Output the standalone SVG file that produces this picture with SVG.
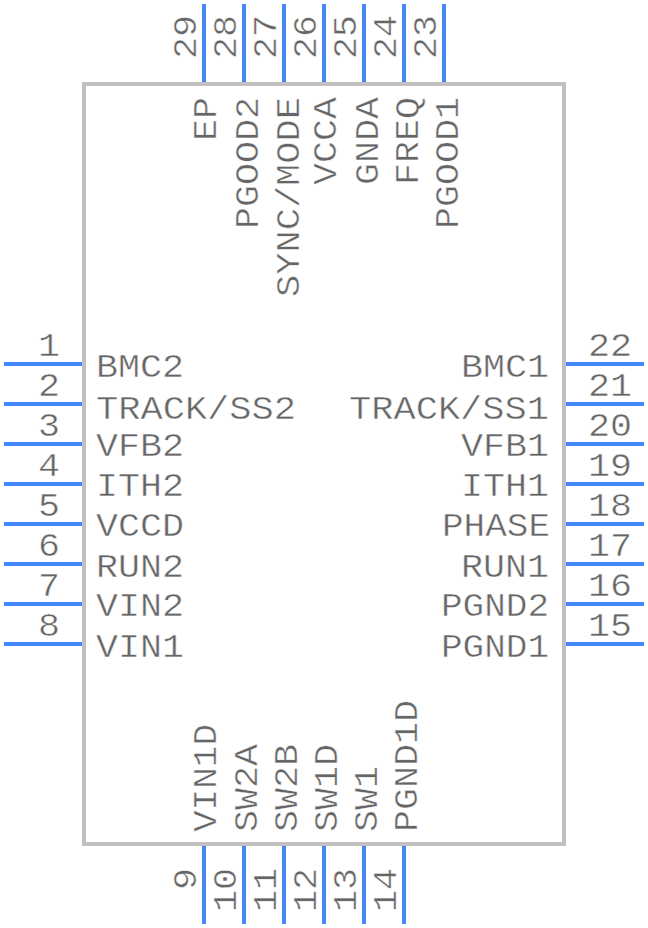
<svg xmlns="http://www.w3.org/2000/svg" width="648" height="928" viewBox="0 0 648 928">
<style>
.p{stroke:#4287f5;stroke-width:4;fill:none}
text{font-family:"Liberation Mono","DejaVu Sans Mono",monospace;font-size:33px;fill:#666;stroke:#fff;stroke-width:0.45}
.e{text-anchor:end}
</style>
<rect width="648" height="928" fill="#fff"/>
<rect id="body" x="84" y="84" width="480" height="760" fill="none" stroke="#bfbfbf" stroke-width="4"/>
<g id="connectors">
<path class="p" d="M4 364H82M4 404H82M4 444H82M4 484H82M4 524H82M4 564H82M4 604H82M4 644H82"/>
<path class="p" d="M566 364H644M566 404H644M566 444H644M566 484H644M566 524H644M566 564H644M566 604H644M566 644H644"/>
<path class="p" d="M204 846V924M244 846V924M284 846V924M324 846V924M364 846V924M404 846V924"/>
<path class="p" d="M204 4V82M244 4V82M284 4V82M324 4V82M364 4V82M404 4V82M444 4V82"/>
</g>
<g id="left">
<text class="e" x="60" y="356" textLength="22" lengthAdjust="spacingAndGlyphs">1</text><text class="e" x="60" y="396" textLength="22" lengthAdjust="spacingAndGlyphs">2</text><text class="e" x="60" y="436" textLength="22" lengthAdjust="spacingAndGlyphs">3</text><text class="e" x="60" y="476" textLength="22" lengthAdjust="spacingAndGlyphs">4</text><text class="e" x="60" y="516" textLength="22" lengthAdjust="spacingAndGlyphs">5</text><text class="e" x="60" y="556" textLength="22" lengthAdjust="spacingAndGlyphs">6</text><text class="e" x="60" y="596" textLength="22" lengthAdjust="spacingAndGlyphs">7</text><text class="e" x="60" y="636" textLength="22" lengthAdjust="spacingAndGlyphs">8</text>
<text x="96" y="377" textLength="88" lengthAdjust="spacingAndGlyphs">BMC2</text><text x="96" y="419" textLength="200" lengthAdjust="spacingAndGlyphs">TRACK/SS2</text><text x="96" y="456" textLength="88" lengthAdjust="spacingAndGlyphs">VFB2</text><text x="96" y="496" textLength="88" lengthAdjust="spacingAndGlyphs">ITH2</text><text x="96" y="536" textLength="88" lengthAdjust="spacingAndGlyphs">VCCD</text><text x="96" y="577" textLength="88" lengthAdjust="spacingAndGlyphs">RUN2</text><text x="96" y="616" textLength="88" lengthAdjust="spacingAndGlyphs">VIN2</text><text x="96" y="657" textLength="88" lengthAdjust="spacingAndGlyphs">VIN1</text>
</g>
<g id="right">
<text x="588" y="356" textLength="44" lengthAdjust="spacingAndGlyphs">22</text><text x="588" y="396" textLength="44" lengthAdjust="spacingAndGlyphs">21</text><text x="588" y="436" textLength="44" lengthAdjust="spacingAndGlyphs">20</text><text x="588" y="476" textLength="44" lengthAdjust="spacingAndGlyphs">19</text><text x="588" y="516" textLength="44" lengthAdjust="spacingAndGlyphs">18</text><text x="588" y="556" textLength="44" lengthAdjust="spacingAndGlyphs">17</text><text x="588" y="596" textLength="44" lengthAdjust="spacingAndGlyphs">16</text><text x="588" y="636" textLength="44" lengthAdjust="spacingAndGlyphs">15</text>
<text class="e" x="549" y="377" textLength="88" lengthAdjust="spacingAndGlyphs">BMC1</text><text class="e" x="549" y="419" textLength="200" lengthAdjust="spacingAndGlyphs">TRACK/SS1</text><text class="e" x="549" y="456" textLength="88" lengthAdjust="spacingAndGlyphs">VFB1</text><text class="e" x="549" y="496" textLength="88" lengthAdjust="spacingAndGlyphs">ITH1</text><text class="e" x="550" y="536" textLength="108" lengthAdjust="spacingAndGlyphs">PHASE</text><text class="e" x="549" y="577" textLength="88" lengthAdjust="spacingAndGlyphs">RUN1</text><text class="e" x="549" y="616" textLength="108" lengthAdjust="spacingAndGlyphs">PGND2</text><text class="e" x="549" y="657" textLength="108" lengthAdjust="spacingAndGlyphs">PGND1</text>
</g>
<g id="bottom">
<text class="e" transform="translate(196 868) rotate(-90)" textLength="22" lengthAdjust="spacingAndGlyphs">9</text>
<text class="e" transform="translate(236 868) rotate(-90)" textLength="44" lengthAdjust="spacingAndGlyphs">10</text>
<text class="e" transform="translate(276 868) rotate(-90)" textLength="44" lengthAdjust="spacingAndGlyphs">11</text>
<text class="e" transform="translate(316 868) rotate(-90)" textLength="44" lengthAdjust="spacingAndGlyphs">12</text>
<text class="e" transform="translate(356 868) rotate(-90)" textLength="44" lengthAdjust="spacingAndGlyphs">13</text>
<text class="e" transform="translate(396 868) rotate(-90)" textLength="44" lengthAdjust="spacingAndGlyphs">14</text>
<text transform="translate(216 832) rotate(-90)" textLength="108" lengthAdjust="spacingAndGlyphs">VIN1D</text>
<text transform="translate(257 832) rotate(-90)" textLength="88" lengthAdjust="spacingAndGlyphs">SW2A</text>
<text transform="translate(297 832) rotate(-90)" textLength="88" lengthAdjust="spacingAndGlyphs">SW2B</text>
<text transform="translate(337 832) rotate(-90)" textLength="88" lengthAdjust="spacingAndGlyphs">SW1D</text>
<text transform="translate(377 832) rotate(-90)" textLength="66" lengthAdjust="spacingAndGlyphs">SW1</text>
<text transform="translate(417 832) rotate(-90)" textLength="132" lengthAdjust="spacingAndGlyphs">PGND1D</text>
</g>
<g id="top">
<text transform="translate(196 59) rotate(-90)" textLength="44" lengthAdjust="spacingAndGlyphs">29</text>
<text transform="translate(236 59) rotate(-90)" textLength="44" lengthAdjust="spacingAndGlyphs">28</text>
<text transform="translate(276 59) rotate(-90)" textLength="44" lengthAdjust="spacingAndGlyphs">27</text>
<text transform="translate(316 59) rotate(-90)" textLength="44" lengthAdjust="spacingAndGlyphs">26</text>
<text transform="translate(356 59) rotate(-90)" textLength="44" lengthAdjust="spacingAndGlyphs">25</text>
<text transform="translate(396 59) rotate(-90)" textLength="44" lengthAdjust="spacingAndGlyphs">24</text>
<text transform="translate(436 59) rotate(-90)" textLength="44" lengthAdjust="spacingAndGlyphs">23</text>
<text class="e" transform="translate(216 97) rotate(-90)" textLength="44" lengthAdjust="spacingAndGlyphs">EP</text>
<text class="e" transform="translate(258 97) rotate(-90)" textLength="132" lengthAdjust="spacingAndGlyphs">PGOOD2</text>
<text class="e" transform="translate(299 97) rotate(-90)" textLength="200" lengthAdjust="spacingAndGlyphs">SYNC/MODE</text>
<text class="e" transform="translate(336 97) rotate(-90)" textLength="88" lengthAdjust="spacingAndGlyphs">VCCA</text>
<text class="e" transform="translate(378 97) rotate(-90)" textLength="88" lengthAdjust="spacingAndGlyphs">GNDA</text>
<text class="e" transform="translate(418 97) rotate(-90)" textLength="88" lengthAdjust="spacingAndGlyphs">FREQ</text>
<text class="e" transform="translate(458 97) rotate(-90)" textLength="132" lengthAdjust="spacingAndGlyphs">PGOOD1</text>
</g>
</svg>
